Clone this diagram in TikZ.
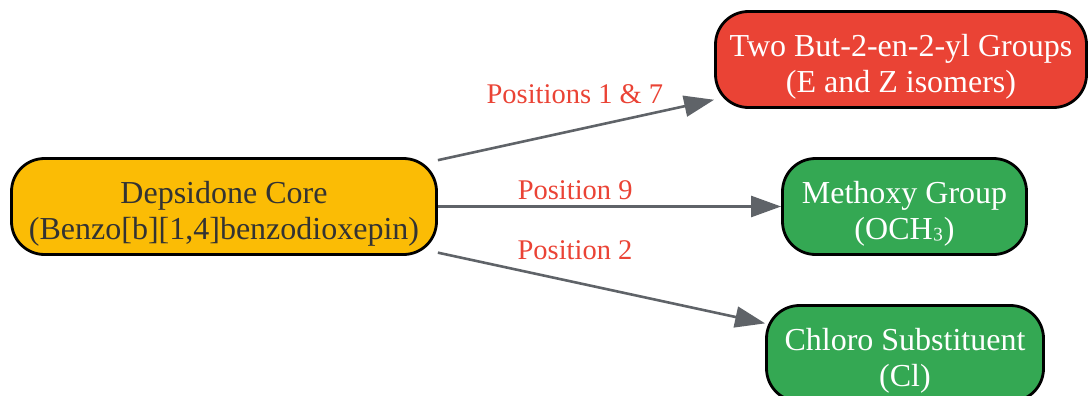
\documentclass[tikz,border=0pt]{standalone}
\usepackage{fontspec}
\setmainfont{Liberation Serif}
\usetikzlibrary{arrows.meta}
\definecolor{coreyellow}{HTML}{FBBC05}
\definecolor{groupred}{HTML}{EA4335}
\definecolor{subgreen}{HTML}{34A853}
\definecolor{edgegray}{HTML}{5F6368}
\definecolor{coretext}{HTML}{333333}
\newcommand{\lowstrut}{\rule{0pt}{36pt}}
\begin{document}
\begin{tikzpicture}[x=1pt, y=-1pt,
  box/.style={rectangle, draw=black, line width=2.8pt, rounded corners=33pt, align=center, inner sep=0pt, font=\fontsize{32}{36}\selectfont, minimum height=96pt},
  link/.style={draw=edgegray, line width=2.6pt, -{Triangle[length=30pt, width=21pt]}},
  elabel/.style={text=groupred, font=\fontsize{28.5}{32}\selectfont, anchor=base, inner sep=0pt}]
  \useasboundingbox (0,0) rectangle (1089,396);
  % nodes
  \node[box, fill=coreyellow, text=coretext, minimum width=425pt] (core) at (224,206.5) {\lowstrut Depsidone Core\\(Benzo[b][1,4]benzodioxepin)};
  \node[box, fill=groupred, text=white, minimum width=371pt] (groups) at (901,59.5) {\lowstrut Two But-2-en-2-yl Groups\\(E and Z isomers)};
  \node[box, fill=subgreen, text=white, minimum width=244pt] (methoxy) at (904.5,206.5) {\lowstrut Methoxy Group\\(OCH\raisebox{4.5pt}{₃})};
  \node[box, fill=subgreen, text=white, minimum width=277pt] (chloro) at (905,353.5) {\lowstrut Chloro Substituent\\(Cl)};
  % connectors
  \draw[link] (core) -- node[elabel, pos=0.496, yshift=26.2pt] (lab17) {Positions 1 \& 7} (groups);
  \draw[link] (core) -- node[elabel, pos=0.4, yshift=7.5pt] (lab9) {Position 9} (methoxy);
  \draw[link] (core) -- node[elabel, pos=0.419, yshift=23pt] (lab2) {Position 2} (chloro);
\end{tikzpicture}
\end{document}
